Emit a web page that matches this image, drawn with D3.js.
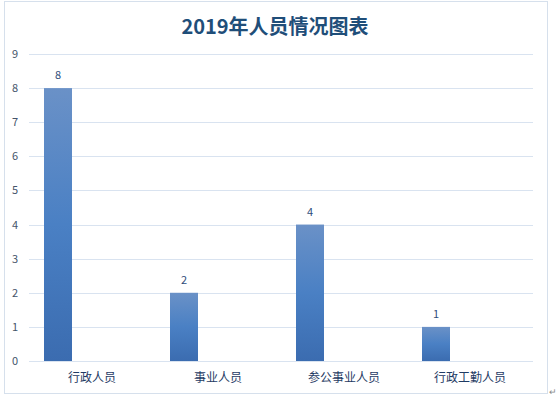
<!DOCTYPE html>
<html>
<head>
<meta charset="utf-8">
<script src="https://cdn.jsdelivr.net/npm/d3@7"></script>
<style>
  body { margin: 0; background: #fff; }
  text { font-family: "Noto Sans CJK SC", "Noto Sans", sans-serif; }
</style>
</head>
<body>
<div id="chart"></div>
<script>
// 2019 staff chart, single series column chart
const categories = ["行政人员", "事业人员", "参公事业人员", "行政工勤人员"];
const values = [8, 2, 4, 1];
const yTicks = [0, 1, 2, 3, 4, 5, 6, 7, 8, 9];
const title = "2019年人员情况图表";

let width = 559;
let height = 397;

var svg = d3.select("#chart")
    .append("svg")
    .attr("width", width)
    .attr("height", height);

// outer frame
svg.append("rect")
    .attr("x", 4.5).attr("y", 1.5)
    .attr("width", 543).attr("height", 392)
    .attr("fill", "#fff")
    .attr("stroke", "#d6e0ec");

// bar gradient
const grad = svg.append("defs").append("linearGradient")
    .attr("id", "barGrad")
    .attr("x1", 0).attr("y1", 0).attr("x2", 0).attr("y2", 1);
grad.append("stop").attr("offset", "0%").attr("stop-color", "#6a91c7");
grad.append("stop").attr("offset", "50%").attr("stop-color", "#4a80c4");
grad.append("stop").attr("offset", "100%").attr("stop-color", "#3b6cb0");

const x = d3.scaleBand().domain(categories).range([29, 533]);
const y = d3.scaleLinear().domain([0, 9]).range([361, 54]);

// gridlines
svg.selectAll(".grid")
    .data(yTicks)
    .join("line")
    .attr("class", "grid")
    .attr("x1", 29).attr("x2", 533)
    .attr("y1", d => Math.round(y(d)) + 0.5)
    .attr("y2", d => Math.round(y(d)) + 0.5)
    .attr("stroke", "#d9e3f0");

// y tick labels
svg.selectAll(".ytick")
    .data(yTicks)
    .join("text")
    .attr("class", "ytick")
    .attr("x", 15)
    .attr("y", d => y(d) + 4)
    .attr("text-anchor", "middle")
    .attr("font-size", "11px")
    .attr("fill", "#44546a")
    .text(d => d);

const barW = 28;
const barOff = 15;

// bars
svg.selectAll(".bar")
    .data(values)
    .join("rect")
    .attr("class", "bar")
    .attr("x", (d, i) => x(categories[i]) + barOff)
    .attr("y", d => y(d))
    .attr("width", barW)
    .attr("height", d => y(0) - y(d))
    .attr("fill", "url(#barGrad)");

// value labels
svg.selectAll(".vlabel")
    .data(values)
    .join("text")
    .attr("class", "vlabel")
    .attr("x", (d, i) => x(categories[i]) + barOff + barW / 2)
    .attr("y", d => y(d) - 9)
    .attr("text-anchor", "middle")
    .attr("font-size", "11px")
    .attr("fill", "#2f4d7a")
    .text(d => d);

// category labels
svg.selectAll(".xlabel")
    .data(categories)
    .join("text")
    .attr("class", "xlabel")
    .attr("x", d => x(d) + x.bandwidth() / 2)
    .attr("y", 382)
    .attr("text-anchor", "middle")
    .attr("font-size", "12px")
    .attr("fill", "#1f3b64")
    .text(d => d);

// title
svg.append("text")
    .attr("x", 275)
    .attr("y", 34)
    .attr("text-anchor", "middle")
    .attr("font-size", "20px")
    .attr("font-weight", "bold")
    .attr("fill", "#1f4e79")
    .text(title);

// paragraph mark at corner
svg.append("text")
    .attr("x", 549).attr("y", 395)
    .attr("font-size", "9px")
    .attr("fill", "#888")
    .text("↵");
</script>
</body>
</html>
